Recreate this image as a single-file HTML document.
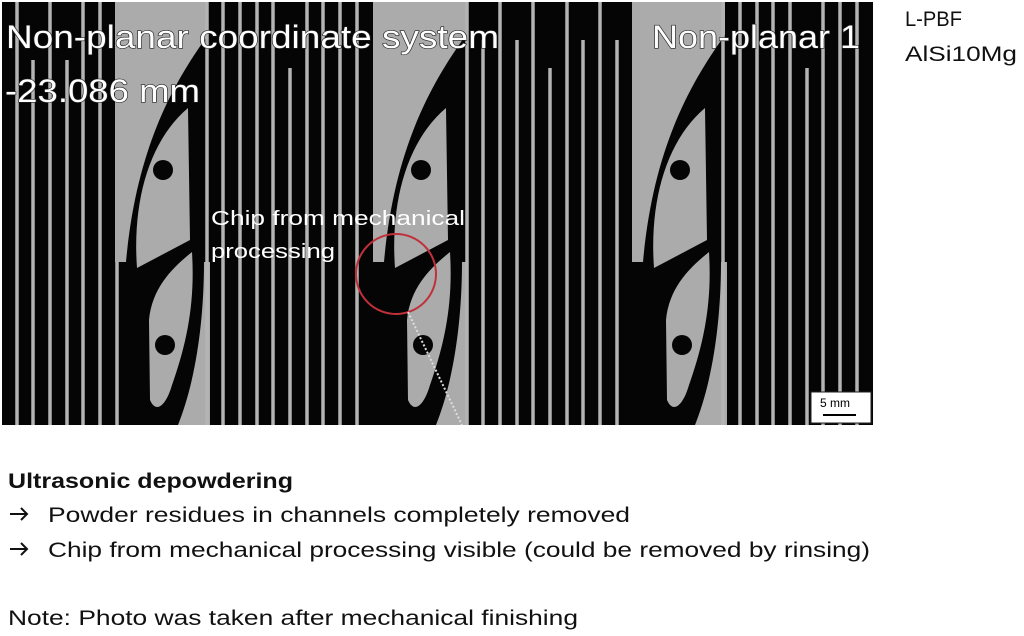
<!DOCTYPE html>
<html><head><style>
html,body{margin:0;padding:0;background:#fff;width:1024px;height:636px;overflow:hidden}
svg{display:block}
</style></head><body>
<svg width="1024" height="636" viewBox="0 0 1024 636" xmlns="http://www.w3.org/2000/svg">
<rect x="2" y="2" width="871" height="423" fill="#050505"/>
<defs>
<g id="unit" fill="#ababab">
<path d="M115 2 L208 2 L208 35 C172 85 136 150 126 262 L115 262 Z"/>
<path d="M188 108 L190 240 L137 268 C132 200 150 140 188 108 Z"/>
<path d="M192 252 C172 268 152 288 149 320 L150 400 C156 414 166 406 172 385 C188 340 195 300 192 252 Z"/>
<path d="M204 262 L210 262 L210 425 L178 425 C196 380 204 320 204 262 Z"/>
<circle cx="163" cy="170" r="10" fill="#050505"/>
<circle cx="165" cy="345" r="10" fill="#050505"/>
</g>
</defs>
<use href="#unit"/>
<use href="#unit" x="258"/>
<use href="#unit" x="517"/>
<g stroke="#b4b4b4" stroke-width="3.5">
<line x1="17" y1="2" x2="17" y2="425"/><line x1="33" y1="60" x2="33" y2="425"/><line x1="50" y1="2" x2="50" y2="425"/><line x1="67" y1="60" x2="67" y2="425"/><line x1="83" y1="2" x2="83" y2="425"/><line x1="100" y1="2" x2="100" y2="425"/><line x1="117" y1="262" x2="117" y2="425"/>
<line x1="207" y1="2" x2="207" y2="425"/><line x1="223" y1="2" x2="223" y2="425"/><line x1="240" y1="2" x2="240" y2="425"/><line x1="257" y1="2" x2="257" y2="425"/><line x1="273" y1="2" x2="273" y2="425"/><line x1="290" y1="68" x2="290" y2="425"/><line x1="307" y1="2" x2="307" y2="425"/><line x1="323" y1="2" x2="323" y2="425"/><line x1="340" y1="2" x2="340" y2="425"/><line x1="357" y1="2" x2="357" y2="425"/>
<line x1="467" y1="2" x2="467" y2="425"/><line x1="483" y1="40" x2="483" y2="425"/><line x1="500" y1="2" x2="500" y2="425"/><line x1="517" y1="40" x2="517" y2="425"/><line x1="533" y1="2" x2="533" y2="425"/><line x1="550" y1="68" x2="550" y2="425"/><line x1="567" y1="2" x2="567" y2="425"/><line x1="583" y1="40" x2="583" y2="425"/><line x1="600" y1="2" x2="600" y2="425"/><line x1="617" y1="40" x2="617" y2="425"/>
<line x1="723" y1="2" x2="723" y2="425"/><line x1="740" y1="2" x2="740" y2="425"/><line x1="757" y1="2" x2="757" y2="425"/><line x1="773" y1="2" x2="773" y2="425"/><line x1="790" y1="2" x2="790" y2="425"/><line x1="807" y1="68" x2="807" y2="425"/><line x1="823" y1="2" x2="823" y2="425"/><line x1="840" y1="2" x2="840" y2="425"/><line x1="857" y1="2" x2="857" y2="425"/>
</g>
<g font-family="Liberation Sans, sans-serif" fill="#fff" stroke="#222" stroke-width="1.2" paint-order="stroke">
<text x="6" y="48" font-size="32" textLength="493" lengthAdjust="spacingAndGlyphs">Non-planar coordinate system</text>
<text x="5" y="102" font-size="32" textLength="195" lengthAdjust="spacingAndGlyphs">-23.086 mm</text>
<text x="652" y="48" font-size="32" textLength="208" lengthAdjust="spacingAndGlyphs">Non-planar 1</text>
</g>
<g font-family="Liberation Sans, sans-serif" fill="#fff" font-size="20">
<text x="211" y="225" textLength="254" lengthAdjust="spacingAndGlyphs">Chip from mechanical</text>
<text x="211" y="258" textLength="124" lengthAdjust="spacingAndGlyphs">processing</text>
</g>
<circle cx="396" cy="274" r="40" fill="none" stroke="#c0303a" stroke-width="2"/>
<path d="M408 312 L462 425" stroke="#ddd" stroke-width="2" stroke-dasharray="2 2"/>
<rect x="811" y="392" width="60" height="31" fill="#fff" stroke="#222" stroke-width="1"/>
<text x="820" y="407" font-family="Liberation Sans, sans-serif" font-size="12" fill="#000">5 mm</text>
<line x1="823" y1="415" x2="856" y2="415" stroke="#000" stroke-width="2"/>
<g font-family="Liberation Sans, sans-serif" fill="#111" font-size="21">
<text x="905" y="26" textLength="57" lengthAdjust="spacingAndGlyphs">L-PBF</text>
<text x="905" y="61" textLength="112" lengthAdjust="spacingAndGlyphs">AlSi10Mg</text>
<text x="8" y="488" font-weight="bold" textLength="285" lengthAdjust="spacingAndGlyphs">Ultrasonic depowdering</text>
<text x="48" y="522" textLength="582" lengthAdjust="spacingAndGlyphs">Powder residues in channels completely removed</text>
<text x="48" y="557" textLength="822" lengthAdjust="spacingAndGlyphs">Chip from mechanical processing visible (could be removed by rinsing)</text>
<text x="8" y="625" textLength="570" lengthAdjust="spacingAndGlyphs">Note: Photo was taken after mechanical finishing</text>
</g>
<g stroke="#111" stroke-width="2" fill="none">
<path d="M10 514 L27 514 M21 508 L27 514 L21 520"/>
<path d="M10 549 L27 549 M21 543 L27 549 L21 555"/>
</g>
</svg>
</body></html>
